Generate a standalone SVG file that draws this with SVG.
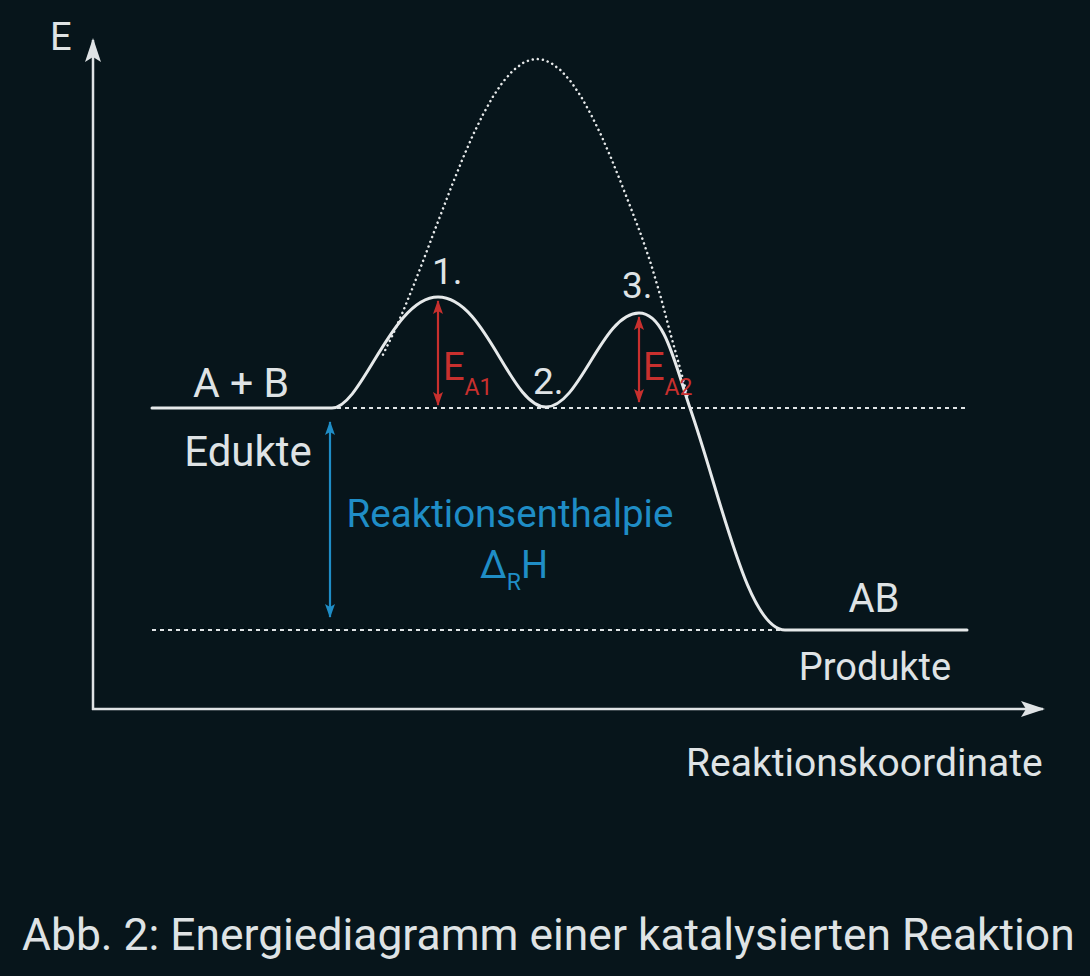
<svg xmlns="http://www.w3.org/2000/svg" width="1090" height="976" viewBox="0 0 1090 976">
<style>
.t{font-family:Roboto,"Liberation Sans",sans-serif;fill:#dfe3e5}
.b{font-family:Roboto,"Liberation Sans",sans-serif;fill:#1f8dc6}
.r{font-family:Roboto,"Liberation Sans",sans-serif;fill:#c8302e}
.ax{stroke:#dfe3e5;stroke-width:2.5;fill:none}
.curve{stroke:#e6e9ea;stroke-width:3;fill:none;stroke-linecap:round}
.dash{stroke:#dfe3e5;stroke-width:2;fill:none;stroke-dasharray:4 4}
.dot{stroke:#e6e9ea;stroke-width:2.5;fill:none;stroke-dasharray:0.1 5;stroke-linecap:round}
.ra{stroke:#c8302e;stroke-width:2.2;fill:none}
.ba{stroke:#1f8dc6;stroke-width:2.2;fill:none}
</style>
<defs>
<marker id="mw" viewBox="0 0 24 16" refX="22" refY="8" markerWidth="24" markerHeight="16" markerUnits="userSpaceOnUse" orient="auto"><path d="M0,0 L24,8 L0,16 L5,8 Z" fill="#dfe3e5"/></marker>
<marker id="mr" viewBox="0 0 14 10" refX="13" refY="5" markerWidth="15" markerHeight="10" markerUnits="userSpaceOnUse" orient="auto-start-reverse"><path d="M0,0 L14,5 L0,10 L3,5 Z" fill="#c8302e"/></marker>
<marker id="mb" viewBox="0 0 14 10" refX="13" refY="5" markerWidth="15" markerHeight="10" markerUnits="userSpaceOnUse" orient="auto-start-reverse"><path d="M0,0 L14,5 L0,10 L3,5 Z" fill="#1f8dc6"/></marker>
</defs>
<rect width="1090" height="976" fill="#07151b"/>
<g id="axes">
<line class="ax" x1="93" y1="710" x2="93" y2="40" marker-end="url(#mw)"/>
<line class="ax" x1="92" y1="709" x2="1043" y2="709" marker-end="url(#mw)"/>
<text class="t" x="50" y="50" font-size="38">E</text>
<text class="t" x="686" y="776" font-size="39">Reaktionskoordinate</text>
</g>
<g id="levels">
<line class="dash" x1="337" y1="408" x2="968" y2="408"/>
<line class="dash" x1="152" y1="630" x2="782" y2="630"/>
</g>
<g id="uncatalyzed">
<polyline class="dot" points="383,354.6 393,334.2 403,311.5 413,286.9 423,261.2 433,234.7 443,208.5 453,182.7 463,157.9 473,134.9 483,114.5 493,96.5 503,81.7 513,70.5 523,62.9 530,60 537,59 544,60 551,62.9 561,70.5 571,81.7 581,96.5 591,114.5 601,134.9 611,157.9 621,182.7 631,208.5 641,234.7 651,264 661,298 670,332 680,368 688,398"/>
</g>
<g id="catalyzed">
<path class="curve" d="M152,408 L332,408 C362,408 392,297 438,297 C486,297 510,407 546,407 C580,407 602,313 639,313 C664,313 674,360 690,408 C722,500 748,630 785,630 L967,630"/>
</g>
<g id="connectors">
<line class="ra" x1="438" y1="301" x2="438" y2="405" marker-start="url(#mr)" marker-end="url(#mr)"/>
<line class="ra" x1="639" y1="317" x2="639" y2="402" marker-start="url(#mr)" marker-end="url(#mr)"/>
<line class="ba" x1="330" y1="422" x2="330" y2="617" marker-start="url(#mb)" marker-end="url(#mb)"/>
</g>
<g id="edukte">
<text class="t" x="241" y="397" font-size="41" text-anchor="middle">A + B</text>
<text class="t" x="248" y="466" font-size="42" text-anchor="middle">Edukte</text>
</g>
<g id="produkte">
<text class="t" x="874" y="612" font-size="40" text-anchor="middle">AB</text>
<text class="t" x="875" y="680" font-size="38" text-anchor="middle">Produkte</text>
</g>
<g id="step1"><text class="t" x="432" y="284" font-size="37">1.</text></g>
<g id="step2"><text class="t" x="533" y="394" font-size="37">2.</text></g>
<g id="step3"><text class="t" x="622" y="298" font-size="37">3.</text></g>
<g id="ea1"><text class="r" x="443" y="380" font-size="38">E<tspan font-size="23" dy="15">A1</tspan></text></g>
<g id="ea2"><text class="r" x="643" y="380" font-size="38">E<tspan font-size="23" dy="15">A2</tspan></text></g>
<g id="enthalpie">
<text class="b" x="510" y="527" font-size="38.5" text-anchor="middle">Reaktionsenthalpie</text>
<text class="b" x="514" y="578" font-size="38" text-anchor="middle">Δ<tspan font-size="23" dy="12">R</tspan><tspan dy="-12">H</tspan></text>
</g>
<text class="t" x="22" y="950" font-size="44.4">Abb. 2: Energiediagramm einer katalysierten Reaktion</text>
</svg>
